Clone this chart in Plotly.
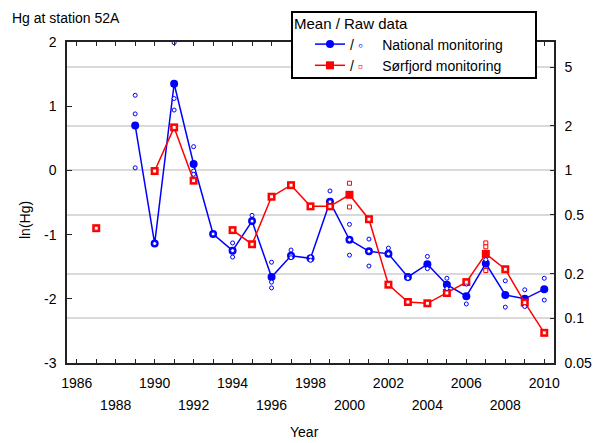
import math
import plotly.graph_objects as go

# ---------------- data ----------------
years_nat = [1989, 1990, 1991, 1992, 1993, 1994, 1995, 1996, 1997, 1998, 1999,
             2000, 2001, 2002, 2003, 2004, 2005, 2006, 2007, 2008, 2009, 2010]
mean_nat = [0.70, -1.14, 1.35, 0.10, -0.99, -1.25, -0.79, -1.66, -1.33, -1.37, -0.49,
            -1.08, -1.26, -1.30, -1.66, -1.46, -1.78, -1.96, -1.45, -1.94, -2.00, -1.85]

years_sor = [1987, 1988, 1989, 1990, 1991, 1992, 1993, 1994, 1995, 1996, 1997, 1998,
             1999, 2000, 2001, 2002, 2003, 2004, 2005, 2006, 2007, 2008, 2009, 2010]
mean_sor = [-0.90, None, None, -0.01, 0.67, -0.16, None, -0.93, -1.15, -0.41, -0.23, -0.56,
            -0.56, -0.38, -0.76, -1.78, -2.05, -2.07, -1.91, -1.74, -1.30, -1.54, -2.06, -2.53]

raw_nat_x = [1989, 1989, 1989, 1990, 1991, 1991, 1991, 1992, 1992, 1992, 1993,
             1994, 1994, 1994, 1995, 1995, 1996, 1996, 1996, 1997, 1997, 1997,
             1998, 1998, 1999, 1999, 2000, 2000, 2000, 2001, 2001, 2001,
             2002, 2002, 2003, 2003, 2004, 2004, 2005, 2005, 2006, 2006,
             2007, 2007, 2008, 2008, 2009, 2009, 2010, 2010]
raw_nat_y = [1.17, 0.88, 0.04, -1.14, 1.99, 1.12, 0.94, 0.37, -0.01, -0.06, -0.99,
             -1.13, -1.35, -1.25, -0.70, -0.79, -1.43, -1.74, -1.83, -1.24, -1.33, -1.36,
             -1.35, -1.40, -0.32, -0.49, -0.84, -1.32, -1.08, -1.07, -1.49, -1.26,
             -1.21, -1.30, -1.66, -1.68, -1.34, -1.53, -1.68, -1.84, -2.08, -1.77,
             -1.39, -1.55, -1.72, -2.13, -1.86, -2.12, -1.68, -2.02]

raw_sor_x = [1987, 1990, 1991, 1992, 1994, 1995, 1996, 1997, 1998, 1999, 2000, 2000,
             2001, 2002, 2003, 2004, 2005, 2006, 2007, 2007, 2007, 2008, 2009, 2010]
raw_sor_y = [-0.90, -0.01, 0.67, -0.16, -0.93, -1.15, -0.41, -0.23, -0.56, -0.56, -0.20, -0.57,
             -0.76, -1.78, -2.05, -2.07, -1.91, -1.74, -1.13, -1.19, -1.56, -1.54, -2.06, -2.53]

x_ticks_row1 = [1986, 1990, 1994, 1998, 2002, 2006, 2010]
x_ticks_row2 = [1988, 1992, 1996, 2000, 2004, 2008]
y_ticks = [-3, -2, -1, 0, 1, 2]
y_labels = ["-3", "-2", "-1", "0", "1", "2"]
right_ticks = [0.05, 0.1, 0.2, 0.5, 1, 2, 5]
right_labels = ["0.05", "0.1", "0.2", "0.5", "1", "2", "5"]

# ---------------- figure ----------------
BLUE = "#0000ff"
RED = "#ff0000"
FONT = "Liberation Sans, Arial, sans-serif"
NB = "\u00a0"

fig = go.Figure()

fig.add_trace(go.Scatter(
    x=years_nat, y=mean_nat, mode="lines+markers",
    line=dict(color=BLUE, width=1.5),
    marker=dict(symbol="circle", size=8, color=BLUE),
    name="/ <span style='color:#0000ff'>\u25e6</span>" + NB * 5 + "National monitoring",
))
fig.add_trace(go.Scatter(
    x=years_sor, y=mean_sor, mode="lines+markers", connectgaps=False,
    line=dict(color=RED, width=1.5),
    marker=dict(symbol="square", size=8, color=RED),
    name="/ <span style='color:#ff0000'>\u25ab</span>" + NB * 5 + "Sørfjord monitoring",
))
fig.add_trace(go.Scatter(
    x=raw_nat_x, y=raw_nat_y, mode="markers", showlegend=False,
    marker=dict(symbol="circle", size=4, color="white", line=dict(color=BLUE, width=1)),
))
fig.add_trace(go.Scatter(
    x=raw_sor_x, y=raw_sor_y, mode="markers", showlegend=False,
    marker=dict(symbol="square", size=4, color="white", line=dict(color=RED, width=1)),
))
# helper traces so the overlay axes are realised
fig.add_trace(go.Scatter(x=[], y=[], xaxis="x2", yaxis="y", showlegend=False, hoverinfo="skip"))
fig.add_trace(go.Scatter(x=[], y=[], xaxis="x", yaxis="y2", showlegend=False, hoverinfo="skip"))

all_years = list(range(1986, 2011))
xr = [1985.5, 2010.5]
AX = "#222222"
PW, PH = 487, 321  # plot area size in px


def px_x(px):
    return (px - 67) / PW


def px_y(py):
    return (363 - py) / PH


fig.update_layout(
    width=601, height=443,
    margin=dict(l=67, r=47, t=42, b=80, autoexpand=False),
    paper_bgcolor="white", plot_bgcolor="white",
    font=dict(family=FONT, size=14, color="black"),
    title=dict(text="Hg at station 52A", x=12 / 601, xref="container", xanchor="left",
               y=1 - 18 / 443, yref="container", yanchor="middle",
               font=dict(family=FONT, size=14, color="black")),
    showlegend=True,
    legend=dict(
        x=px_x(292), y=px_y(9), xanchor="left", yanchor="top",
        bgcolor="rgba(0,0,0,0)", borderwidth=0,
        font=dict(family=FONT, size=14, color="black"),
        title=dict(text="Mean / Raw data", font=dict(family=FONT, size=15, color="black")),
        indentation=18,
        tracegroupgap=0,
    ),
    shapes=[dict(type="rect", xref="paper", yref="paper", layer="above",
                 x0=px_x(292), x1=px_x(536), y0=px_y(78), y1=px_y(12),
                 fillcolor="white", line=dict(color="black", width=2))],
    xaxis=dict(
        range=xr, tickmode="array", tickvals=all_years,
        ticktext=[str(y) if y in x_ticks_row1 else "" for y in all_years],
        ticks="inside", ticklen=4, tickwidth=1, tickcolor=AX,
        showline=True, linecolor=AX, linewidth=1.5, mirror="ticks",
        showgrid=False, zeroline=False, ticklabelstandoff=6,
    ),
    xaxis2=dict(
        range=xr, overlaying="x", anchor="y", side="bottom",
        tickmode="array", tickvals=x_ticks_row2, ticktext=[str(y) for y in x_ticks_row2],
        ticks="", showline=False, showgrid=False, zeroline=False,
        ticklabelstandoff=32,
    ),
    yaxis=dict(
        range=[-3, 2], tickmode="array", tickvals=y_ticks, ticktext=y_labels,
        ticks="inside", ticklen=5, tickwidth=1, tickcolor=AX,
        showline=True, linecolor=AX, linewidth=1.5,
        showgrid=False, zeroline=False, ticklabelstandoff=6,
    ),
    yaxis2=dict(
        type="log", range=[-3 / math.log(10), 2 / math.log(10)],
        overlaying="y", anchor="x", side="right",
        tickmode="array", tickvals=right_ticks, ticktext=right_labels,
        ticks="inside", ticklen=4, tickwidth=1, tickcolor=AX,
        showline=True, linecolor=AX, linewidth=1.5,
        showgrid=True, gridcolor="#d9d9d9", gridwidth=1.5, zeroline=False,
        ticklabelstandoff=6,
    ),
    annotations=[
        dict(text="ln(Hg)", xref="paper", yref="paper", x=px_x(25), y=px_y(220),
             xanchor="center", yanchor="middle", textangle=-90, showarrow=False,
             font=dict(family=FONT, size=14, color="black")),
        dict(text="Year", xref="paper", yref="paper", x=px_x(304), y=px_y(432),
             xanchor="center", yanchor="middle", showarrow=False,
             font=dict(family=FONT, size=14, color="black")),
    ],
)

fig.write_html("out.html", config={"displayModeBar": False},
               post_script="document.body.style.margin='0';document.body.style.overflow='hidden';")
